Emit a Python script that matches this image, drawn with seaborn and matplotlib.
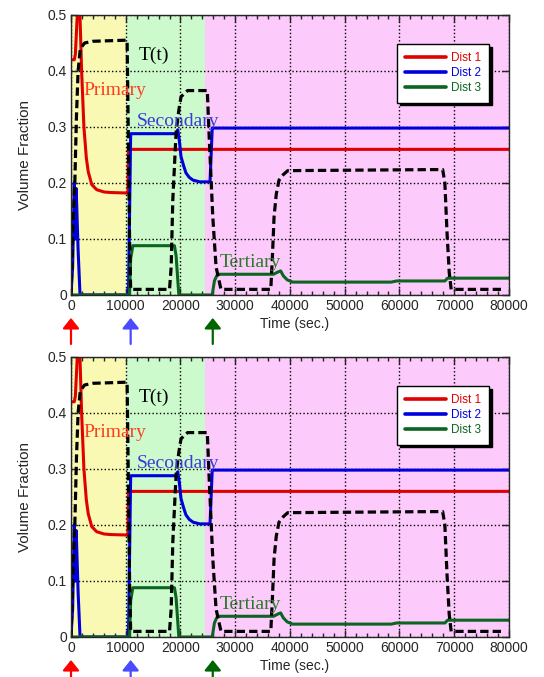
import matplotlib
matplotlib.use('Agg')
import matplotlib.pyplot as plt
import seaborn as sns

sns.set_style('ticks')
plt.rcParams['font.family'] = ['Liberation Sans', 'DejaVu Sans']

# Dist 1 (red)
t1 = [0, 600, 800, 1000, 1200, 1450, 1640, 1940, 2360, 2800, 3150, 3800, 4700, 6000, 7100, 10400, 10500, 80000]
d1 = [0.42, 0.42, 0.43, 0.47, 0.51, 0.53, 0.50, 0.40, 0.30, 0.245, 0.22, 0.197, 0.188, 0.184, 0.183, 0.182, 0.26, 0.26]

# Dist 2 (blue)
t2 = [0, 300, 600, 750, 950, 1300, 1650, 10500, 10900, 19200, 19500, 19800, 20100, 20600, 21000, 21600, 22300, 23500, 25400, 25800, 80000]
d2 = [0, 0.05, 0.2, 0.1, 0.19, 0.08, 0, 0, 0.288, 0.288, 0.295, 0.275, 0.247, 0.23, 0.218, 0.21, 0.205, 0.202, 0.202, 0.298, 0.298]

# Dist 3 (green)
t3 = [0, 10700, 10900, 11300, 18900, 19200, 19700, 25800, 26200, 26600, 27000, 37000, 37800, 38300, 38800, 39500, 40500,
      58500, 59500, 68300, 68800, 69200, 80000]
d3 = [0, 0, 0.065, 0.088, 0.088, 0.07, 0, 0, 0.025, 0.034, 0.037, 0.037, 0.041, 0.043, 0.034, 0.027, 0.023,
      0.023, 0.025, 0.025, 0.030, 0.030, 0.030]

# temperature profile T(t), dashed
tT = [0, 150, 350, 700, 1000, 1300, 1700, 2500, 4000, 10250, 10450, 10700, 10900, 18000, 18300, 18600, 19200, 19700,
      20100, 21300, 24900, 25300, 25900, 26500, 27400, 36500, 36800, 37100, 37500, 38000, 38800, 39600, 67900, 68300,
      68700, 69100, 69450, 78900]
dT = [0, 0.05, 0.12, 0.2, 0.32, 0.4, 0.44, 0.45, 0.453, 0.455, 0.3, 0.1, 0.01, 0.01, 0.05, 0.17, 0.29, 0.33,
      0.354, 0.365, 0.365, 0.27, 0.14, 0.05, 0.01, 0.01, 0.07, 0.14, 0.18, 0.205, 0.215, 0.222, 0.224, 0.2,
      0.11, 0.04, 0.01, 0.01]

# stage shading and arrows
stage_edges = [0, 10000, 24400, 80000]
stage_colors = ['#F9F9B4', '#CCFACC', '#FDCAFC']
arrow_times = [0, 10900, 25900]
arrow_colors = ['#FF0000', '#4A4AFF', '#006400']

labels = [('Primary', 2180, 0.357, '#FF3C1E'),
          ('Secondary', 12000, 0.302, '#3C3CD2'),
          ('T(t)', 12360, 0.42, 'black'),
          ('Tertiary', 27100, 0.0505, '#2A7A2A')]

xticks = [0, 10000, 20000, 30000, 40000, 50000, 60000, 70000, 80000]
yticks = [0, 0.1, 0.2, 0.3, 0.4, 0.5]
ytick_labels = ['0', '0.1', '0.2', '0.3', '0.4', '0.5']

series = [(t1, d1, '#E00000', 'Dist 1'), (t2, d2, '#0000DD', 'Dist 2'), (t3, d3, '#0B6420', 'Dist 3')]


def draw_panel(ax):
    for i in range(3):
        ax.axvspan(stage_edges[i], stage_edges[i + 1], color=stage_colors[i], lw=0, zorder=1)
    ax.set_axisbelow('line')
    ax.grid(True, color='black', linestyle=':', linewidth=1)

    for t, d, c, lab in series:
        sns.lineplot(x=t, y=d, ax=ax, color=c, lw=2.2, label=lab, estimator=None, sort=False, zorder=3)
    sns.lineplot(x=tT, y=dT, ax=ax, color='black', lw=2.3, estimator=None, sort=False, zorder=4)
    ax.lines[-1].set_linestyle((0, (2.6, 1.3)))

    for txt, x, y, c in labels:
        ax.text(x, y, txt, color=c, fontsize=14, family='Liberation Serif', va='baseline', ha='left', zorder=5)

    ax.set_xlim(0, 80000)
    ax.set_ylim(0, 0.5)
    ax.set_xticks(xticks)
    ax.set_xticklabels([str(v) for v in xticks])
    ax.set_xticks(range(0, 80001, 2000), minor=True)
    ax.set_yticks(yticks)
    ax.set_yticklabels(ytick_labels)
    ax.tick_params(which='both', direction='in', top=True, right=True, labelsize=10, pad=3)
    ax.tick_params(which='major', length=5, width=1)
    ax.tick_params(which='minor', length=3, width=1)
    for s in ax.spines.values():
        s.set_linewidth(1)
        s.set_zorder(6)
    ax.set_xlabel('Time (sec.)', fontsize=10)
    ax.xaxis.set_label_coords(0.51, -0.077)
    ax.set_ylabel('Volume Fraction', fontsize=11, labelpad=11)

    for x, c in zip(arrow_times, arrow_colors):
        ax.annotate('', xy=(x, -0.082), xycoords=('data', 'axes fraction'),
                    xytext=(x, -0.175), textcoords=('data', 'axes fraction'),
                    arrowprops=dict(arrowstyle='-|>,head_length=0.35,head_width=0.28', color=c, lw=1.6,
                                    mutation_scale=18, shrinkA=0, shrinkB=0),
                    annotation_clip=False)

    leg = ax.legend(loc='upper right', bbox_to_anchor=(0.968, 0.917), fontsize=8.5, frameon=True, fancybox=False,
                    shadow={'color': 'black', 'alpha': 1}, handlelength=3.5, handletextpad=0.35,
                    labelspacing=0.25, borderpad=0.7, framealpha=1)
    leg.get_frame().set_edgecolor('black')
    leg.get_frame().set_linewidth(1)
    leg.set_zorder(7)
    for text, (_, _, c, _) in zip(leg.get_texts(), series):
        text.set_color(c)
    for line in leg.get_lines():
        line.set_linewidth(2.6)


fig = plt.figure(figsize=(5.44, 6.77), dpi=100)
ax_top = fig.add_axes([0.1305, 0.5643, 0.805, 0.4136])
ax_bot = fig.add_axes([0.1305, 0.0591, 0.805, 0.4136])
draw_panel(ax_top)
draw_panel(ax_bot)

fig.savefig('out.png', dpi=100)
